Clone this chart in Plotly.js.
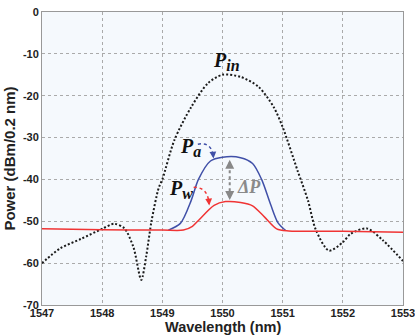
<!DOCTYPE html>
<html><head><meta charset="utf-8">
<script src="https://cdn.plot.ly/plotly-3.0.1.min.js"></script>
<style>body{margin:0;background:#fff}#c{width:415px;height:336px}</style>
</head><body><div id="c"></div>
<script>
const pinX = [1547,1547.3,1547.65,1548.0,1548.2,1548.37,1548.52,1548.65,1548.73,1548.82,1548.94,1549.0,1549.2,1549.48,1549.76,1550.0,1550.3,1550.6,1550.85,1551.0,1551.25,1551.42,1551.55,1551.77,1552.0,1552.13,1552.4,1552.67,1553];
const pinY = [-60,-56.5,-54.2,-51.8,-50.6,-51.7,-56.2,-64,-58.5,-50,-42,-40,-30.6,-22.7,-17,-15,-15.5,-17.9,-22.7,-27.5,-38,-45,-52,-57,-55,-53,-51.7,-54.6,-59.5];
const paX = [1549.1,1549.3,1549.48,1549.6,1549.8,1550.0,1550.3,1550.5,1550.65,1550.8,1550.92,1551.05];
const paY = [-52.1,-50.5,-45,-40,-35.6,-34.7,-34.8,-36.2,-40,-46,-50.3,-52.2];
const pwX = [1547,1548,1549,1549.35,1549.5,1549.6,1549.86,1550.05,1550.3,1550.5,1550.7,1550.9,1551.1,1552,1553];
const pwY = [-51.8,-52,-52.1,-52.1,-51.2,-49.8,-46.2,-45.3,-45.5,-46.3,-49,-51.8,-52.3,-52.4,-52.6];
const xTicks = [1547,1548,1549,1550,1551,1552,1553];
const yTicks = [0,-10,-20,-30,-40,-50,-60,-70];

const traces = [
 {x:pinX,y:pinY,mode:'lines',line:{color:'#1a1a1a',width:2,dash:'2px,2px',shape:'spline',smoothing:0.8},hoverinfo:'skip'},
 {x:paX,y:paY,mode:'lines',line:{color:'#4050a8',width:1.5,shape:'spline',smoothing:0.8},hoverinfo:'skip'},
 {x:pwX,y:pwY,mode:'lines',line:{color:'#f03434',width:1.5,shape:'spline',smoothing:0.8},hoverinfo:'skip'}
];
const serif = 'Liberation Serif, DejaVu Serif, serif';
function lab(main, sub){
  return '<b><i>'+main+'</i></b><sub><span style="font-size:16px"><b><i>'+sub+'</i></b></span></sub>';
}
const layout = {
 width:415,height:336,margin:{l:42,r:12,t:12,b:31},
 paper_bgcolor:'#ffffff',plot_bgcolor:'#f5f9fd',showlegend:false,
 font:{family:'Liberation Sans, Arial, sans-serif',color:'#222'},
 xaxis:{range:[1547,1553],tickvals:xTicks,ticktext:xTicks.map(String),showgrid:true,gridcolor:'#aaaaaa',griddash:'dot',gridwidth:1,
   zeroline:false,showline:true,linecolor:'#999',mirror:true,ticks:'',ticklen:0,ticklabelstandoff:-2,ticklabeloverflow:'allow',tickfont:{size:11,family:'Liberation Sans, Arial',weight:'bold'},
   title:{text:''}},
 yaxis:{range:[-70,0],tickvals:yTicks,ticktext:yTicks.map(String),showgrid:true,gridcolor:'#aaaaaa',griddash:'dot',gridwidth:1,
   zeroline:false,showline:true,linecolor:'#999',mirror:true,ticks:'',ticklabeloverflow:'allow',tickfont:{size:11,family:'Liberation Sans, Arial',weight:'bold'},
   title:{text:'<b>Power (dBm/0.2 nm)</b>',font:{size:15},standoff:3}},
 shapes:[
  {type:'path',path:'M 1549.59 -31.6 Q 1549.8 -31.0 1549.84 -34.0',line:{color:'#4050a8',width:1.5,dash:'dot'}},
  {type:'path',path:'M 1549.52 -41.9 Q 1549.74 -41.8 1549.77 -45.2',line:{color:'#f03434',width:1.5,dash:'dot'}},
  {type:'line',x0:1550.12,x1:1550.12,y0:-36.4,y1:-43.8,line:{color:'#888',width:2,dash:'dot'}}
 ],
 annotations:[
  {xref:'paper',yref:'paper',x:0.5,y:-22/293,yanchor:'middle',text:'<b>Wavelength (nm)</b>',showarrow:false,font:{size:14.5,color:'#222'}},
  {x:1550.07,y:-11.9,text:lab('P','in'),showarrow:false,font:{family:serif,size:20,color:'#111'}},
  {x:1549.46,y:-32.3,text:lab('P','a'),showarrow:false,font:{family:serif,size:20,color:'#111'}},
  {x:1549.31,y:-42.4,text:lab('P','w'),showarrow:false,font:{family:serif,size:20,color:'#111'}},
  {x:1550.44,y:-41.7,text:'<b><i>ΔP</i></b>',showarrow:false,font:{family:serif,size:18,color:'#8a8a8a'}},
  {x:1549.85,y:-35.0,ax:1549.84,ay:-33.4,axref:'x',ayref:'y',text:'',showarrow:true,arrowhead:2,arrowsize:0.9,arrowwidth:1.5,arrowcolor:'#4050a8'},
  {x:1549.78,y:-46.2,ax:1549.77,ay:-44.6,axref:'x',ayref:'y',text:'',showarrow:true,arrowhead:2,arrowsize:0.9,arrowwidth:1.5,arrowcolor:'#f03434'},
  {x:1550.12,y:-35.3,ax:1550.12,ay:-37.2,axref:'x',ayref:'y',text:'',showarrow:true,arrowhead:2,arrowsize:0.9,arrowwidth:2,arrowcolor:'#888'},
  {x:1550.12,y:-44.9,ax:1550.12,ay:-43.0,axref:'x',ayref:'y',text:'',showarrow:true,arrowhead:2,arrowsize:0.9,arrowwidth:2,arrowcolor:'#888'}
 ]
};
Plotly.newPlot('c',traces,layout,{staticPlot:true,displayModeBar:false});
</script></body></html>
